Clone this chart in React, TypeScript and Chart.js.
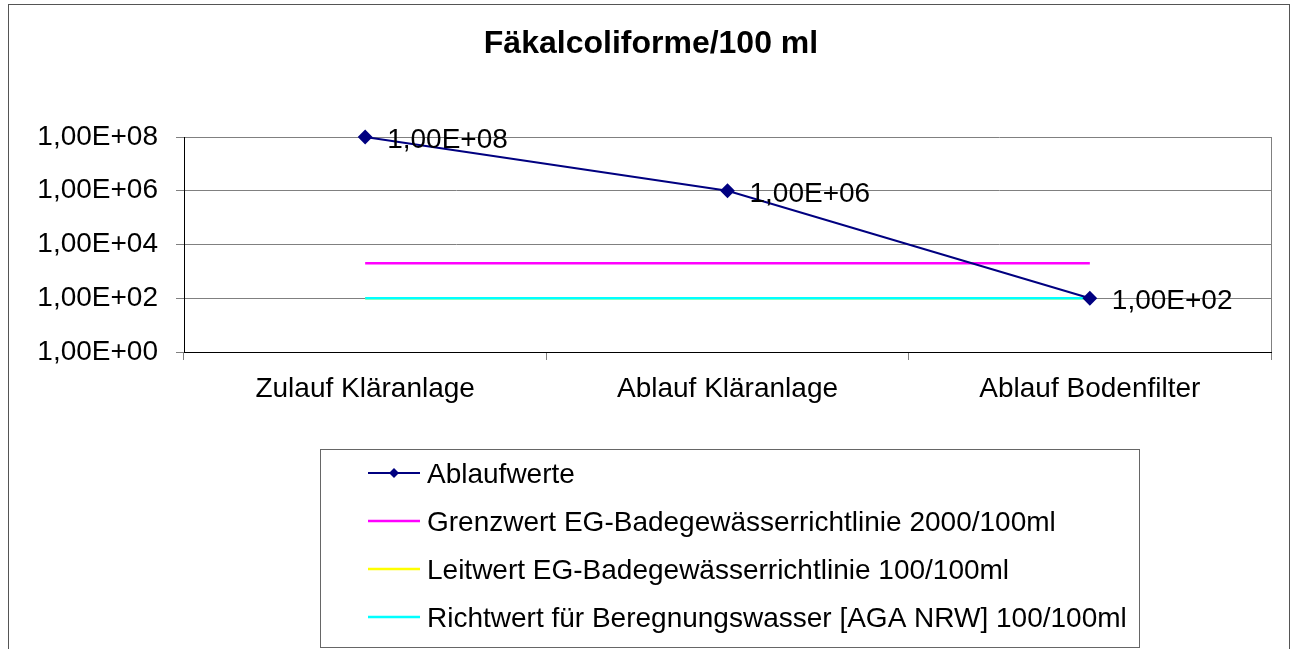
import React, { useEffect, useRef } from "react";
import { Chart, registerables } from "chart.js";

Chart.register(...registerables);

const TITLE = "Fäkalcoliforme/100 ml";
const categories = ["Zulauf Kläranlage", "Ablauf Kläranlage", "Ablauf Bodenfilter"];
const ablaufwerte = [1e8, 1e6, 1e2];
const grenzwert = [2000, 2000, 2000];
const leitwert = [100, 100, 100];
const richtwert = [100, 100, 100];
const yTicks = [1, 1e2, 1e4, 1e6, 1e8];
const seriesNames = [
  "Ablaufwerte",
  "Grenzwert EG-Badegewässerrichtlinie 2000/100ml",
  "Leitwert EG-Badegewässerrichtlinie 100/100ml",
  "Richtwert für Beregnungswasser [AGA NRW] 100/100ml",
];
const seriesColors = ["#000080", "#FF00FF", "#FFFF00", "#00FFFF"];

const FONT = "'Liberation Sans', Arial, sans-serif";

function fmtExp(v: number): string {
  const e = Math.round(Math.log10(v));
  const exp = (e < 10 ? "0" : "") + e;
  return "1,00E+" + exp;
}

const decorPlugin = {
  id: "decor",
  beforeDraw(chart: any) {
    const ctx = chart.ctx;
    ctx.save();
    ctx.fillStyle = "#fff";
    ctx.fillRect(0, 0, chart.width, chart.height);
    ctx.restore();
  },
  afterDraw(chart: any) {
    const ctx = chart.ctx;
    const ca = chart.chartArea;
    ctx.save();
    // outer chart border
    ctx.strokeStyle = "#555";
    ctx.lineWidth = 1;
    ctx.strokeRect(8.5, 4.5, 1281, 700);
    // plot right border
    ctx.strokeStyle = "#808080";
    ctx.beginPath();
    ctx.moveTo(Math.round(ca.right) + 0.5, ca.top);
    ctx.lineTo(Math.round(ca.right) + 0.5, ca.bottom);
    ctx.stroke();
    // title
    ctx.fillStyle = "#000";
    ctx.font = "bold 32px " + FONT;
    ctx.textAlign = "center";
    ctx.textBaseline = "alphabetic";
    ctx.fillText(TITLE, 651, 53);
    // data labels
    const meta = chart.getDatasetMeta(0);
    ctx.font = "28px " + FONT;
    ctx.textAlign = "left";
    ctx.textBaseline = "alphabetic";
    meta.data.forEach((pt: any, i: number) => {
      ctx.fillText(fmtExp(ablaufwerte[i]), pt.x + 22, pt.y + 11);
    });
    // legend
    ctx.strokeStyle = "#666";
    ctx.strokeRect(320.5, 449.5, 819, 198);
    seriesNames.forEach((name, i) => {
      const y = 473 + i * 48;
      ctx.strokeStyle = seriesColors[i];
      ctx.lineWidth = i === 0 ? 2 : 2.5;
      ctx.beginPath();
      ctx.moveTo(368, y);
      ctx.lineTo(420, y);
      ctx.stroke();
      if (i === 0) {
        ctx.fillStyle = seriesColors[0];
        ctx.beginPath();
        ctx.moveTo(394, y - 5);
        ctx.lineTo(399, y);
        ctx.lineTo(394, y + 5);
        ctx.lineTo(389, y);
        ctx.closePath();
        ctx.fill();
      }
      ctx.fillStyle = "#000";
      ctx.font = "28px " + FONT;
      ctx.textAlign = "left";
      ctx.textBaseline = "alphabetic";
      ctx.fillText(name, 427, y + 10);
    });
    ctx.restore();
  },
};

export default function App() {
  const ref = useRef<HTMLCanvasElement>(null);
  useEffect(() => {
    if (!ref.current) return;
    const chart = new Chart(ref.current, {
      type: "line",
      data: {
        labels: categories,
        datasets: [
          {
            label: seriesNames[0],
            data: ablaufwerte,
            borderColor: seriesColors[0],
            backgroundColor: seriesColors[0],
            borderWidth: 2,
            pointStyle: "rectRot",
            pointRadius: 6,
            order: 0,
            clip: false,
          },
          {
            label: seriesNames[1],
            data: grenzwert,
            borderColor: seriesColors[1],
            borderWidth: 2.5,
            pointRadius: 0,
            order: 1,
          },
          {
            label: seriesNames[2],
            data: leitwert,
            borderColor: seriesColors[2],
            borderWidth: 2.5,
            pointRadius: 0,
            order: 3,
          },
          {
            label: seriesNames[3],
            data: richtwert,
            borderColor: seriesColors[3],
            borderWidth: 2.5,
            pointRadius: 0,
            order: 2,
          },
        ],
      },
      options: {
        animation: false,
        responsive: false,
        layout: { padding: { left: 0, top: 137, right: 24, bottom: 197 } },
        plugins: {
          legend: { display: false },
          title: { display: false },
          tooltip: { enabled: false },
        },
        scales: {
          x: {
            type: "category",
            offset: true,
            grid: {
              offset: true,
              drawOnChartArea: false,
              drawTicks: true,
              tickLength: 8,
              color: "#808080",
            },
            border: { color: "#000", width: 1 },
            ticks: {
              color: "#000",
              font: { family: FONT, size: 28 },
              padding: 12,
              maxRotation: 0,
            },
            afterFit: (s: any) => {
              s.height = 100;
            },
          },
          y: {
            type: "logarithmic",
            min: 1,
            max: 1e8,
            grid: { color: "#808080", tickLength: 8, drawTicks: true },
            border: { color: "#000", width: 1 },
            afterBuildTicks: (s: any) => {
              s.ticks = yTicks.map((v) => ({ value: v }));
            },
            ticks: {
              color: "#000",
              font: { family: FONT, size: 28 },
              padding: 18,
              callback: (v: any) => fmtExp(Number(v)),
            },
            afterFit: (s: any) => {
              s.width = 184;
            },
          },
        },
      },
      plugins: [decorPlugin],
    });
    return () => chart.destroy();
  }, []);
  return (
    <div style={{ position: "fixed", left: 0, top: 0, width: 1295, height: 649, background: "#fff" }}>
      <canvas ref={ref} width={1295} height={649} style={{ display: "block" }} />
    </div>
  );
}
